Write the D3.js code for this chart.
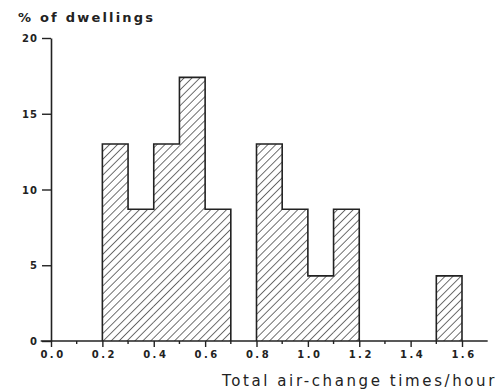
<!DOCTYPE html>
<html>
<head>
<meta charset="utf-8">
<script src="https://cdn.jsdelivr.net/npm/d3@7"></script>
<style>
body{margin:0;background:#fff;}
text{font-family:"DejaVu Sans",sans-serif;font-weight:bold;fill:#222;}
</style>
</head>
<body>
<script>
// bins of 0.1 air-change/hour, % of dwellings
var binStart=[0.2,0.3,0.4,0.5,0.6,0.7,0.8,0.9,1.0,1.1,1.2,1.3,1.4,1.5];
var pct=[13.0,8.7,13.0,17.4,8.7,0,13.0,8.7,4.3,8.7,0,0,0,4.3];
var binW=0.1;
var xTickVals=[0,0.2,0.4,0.6,0.8,1.0,1.2,1.4,1.6];
var yTickVals=[0,5,10,15,20];

var W=499,H=391;
var x=d3.scaleLinear().domain([0,1.6]).range([51,462]);
var y=d3.scaleLinear().domain([0,20]).range([341,38]);

var svg=d3.select("body").append("svg").attr("width",W).attr("height",H);

var defs=svg.append("defs");
var pat=defs.append("pattern").attr("id","hatch").attr("patternUnits","userSpaceOnUse")
  .attr("width",5.6).attr("height",5.6).attr("patternTransform","rotate(45)");
pat.append("line").attr("x1",0).attr("y1",0).attr("x2",0).attr("y2",5.6)
  .attr("stroke","#333").attr("stroke-width",1.4);

var data=binStart.map(function(d,i){return {x0:d,x1:d+binW,v:pct[i]};});

// hatched bars
svg.selectAll("rect.bar").data(data.filter(function(d){return d.v>0;})).enter()
  .append("rect").attr("class","bar")
  .attr("x",function(d){return x(d.x0);})
  .attr("y",function(d){return y(d.v);})
  .attr("width",function(d){return x(d.x1)-x(d.x0);})
  .attr("height",function(d){return y(0)-y(d.v);})
  .attr("fill","url(#hatch)");

// step outline for each run of non-empty bins
var groups=[],cur=null;
data.forEach(function(d){
  if(d.v>0){ if(!cur){cur=[];groups.push(cur);} cur.push(d); }
  else cur=null;
});
groups.forEach(function(g){
  var p=d3.path();
  p.moveTo(x(g[0].x0),y(0));
  g.forEach(function(d){ p.lineTo(x(d.x0),y(d.v)); p.lineTo(x(d.x1),y(d.v)); });
  p.lineTo(x(g[g.length-1].x1),y(0));
  svg.append("path").attr("d",p.toString()).attr("fill","none")
    .attr("stroke","#222").attr("stroke-width",1.6);
});

// y axis
var ya=svg.append("g").attr("transform","translate("+x(0)+",0)")
  .call(d3.axisLeft(y).tickValues(yTickVals).tickSize(9).tickPadding(4).tickSizeOuter(0));
ya.select(".domain").attr("stroke","#222").attr("stroke-width",1.6);
ya.selectAll(".tick line").attr("stroke","#222").attr("stroke-width",1.4);
ya.selectAll(".tick text").style("font-size","10px").style("letter-spacing","1px").attr("dy","0.35em");

// x axis
var xa=svg.append("g").attr("transform","translate(0,"+y(0)+")")
  .call(d3.axisBottom(x).tickValues(xTickVals).tickSize(6).tickPadding(4)
    .tickFormat(function(d){return d3.format(".1f")(d).replace("."," . ");}).tickSizeOuter(0));
xa.select(".domain").remove();
xa.append("line").attr("x1",x(-0.04)).attr("x2",x(1.7)).attr("y1",0).attr("y2",0)
  .attr("stroke","#222").attr("stroke-width",1.6);
xa.selectAll(".tick line").attr("stroke","#222").attr("stroke-width",1.4);
xa.selectAll(".tick text").style("font-size","10px").style("letter-spacing","-0.5px");
var minor=d3.range(1,17,2).map(function(i){return i/10;});
xa.selectAll("line.minor").data(minor).enter().append("line").attr("class","minor")
  .attr("x1",function(d){return x(d);}).attr("x2",function(d){return x(d);})
  .attr("y1",0).attr("y2",3).attr("stroke","#222").attr("stroke-width",1.4);

// titles
svg.append("text").attr("x",18).attr("y",22).style("font-size","13px")
  .style("letter-spacing","2.2px").text("% of dwellings");
svg.append("text").attr("x",497).attr("y",386).attr("text-anchor","end")
  .style("font-size","15px").style("letter-spacing","2.6px").style("font-weight","normal")
  .text("Total air-change times/hour");
</script>
</body>
</html>
